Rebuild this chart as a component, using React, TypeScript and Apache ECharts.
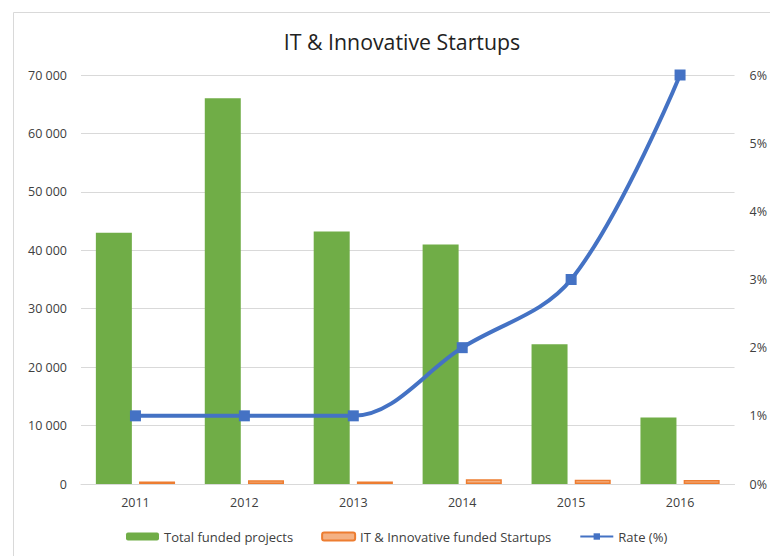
import React, { useEffect, useRef } from "react";
import * as echarts from "echarts";

const categories = ["2011", "2012", "2013", "2014", "2015", "2016"];
const totalFunded = [43000, 66000, 43200, 41000, 23900, 11400];
const itFunded = [430, 660, 440, 820, 720, 690];
const ratePct = [1, 1, 1, 2, 3, 6];

const FONT = "'Open Sans', 'Noto Sans', sans-serif";

export default function App() {
  const ref = useRef<HTMLDivElement>(null);
  useEffect(() => {
    const chart = echarts.init(ref.current!, null, { renderer: "svg" });
    chart.setOption({
      animation: false,
      backgroundColor: "#ffffff",
      textStyle: { fontFamily: FONT },
      title: {
        text: "IT & Innovative Startups",
        left: 397,
        textAlign: "center",
        top: 26,
        textStyle: { fontFamily: FONT, fontSize: 21.3, fontWeight: "normal", color: "#222222" },
      },
      graphic: [
        {
          type: "rect",
          shape: { x: 13.5, y: 12.5, width: 800, height: 600 },
          style: { fill: "none", stroke: "#d9d9d9", lineWidth: 1 },
          silent: true,
        },
      ],
      legend: {
        bottom: 8,
        left: 121,
        itemWidth: 33,
        itemHeight: 8,
        itemGap: 28,
        textStyle: { fontFamily: FONT, fontSize: 13, color: "#404040" },
        data: ["Total funded projects", "IT & Innovative funded Startups", "Rate (%)"],
      },
      grid: { left: 81, right: 33, top: 75, bottom: 72 },
      xAxis: {
        type: "category",
        data: categories,
        axisLine: { lineStyle: { color: "#d9d9d9", width: 1 } },
        axisTick: { show: false },
        axisLabel: { color: "#404040", fontSize: 12.5, fontFamily: FONT, margin: 12 },
      },
      yAxis: [
        {
          type: "value",
          min: 0,
          max: 70000,
          interval: 10000,
          axisLine: { show: false },
          axisTick: { show: false },
          splitLine: { lineStyle: { color: "#d9d9d9", width: 1 } },
          axisLabel: {
            color: "#404040",
            fontSize: 12.5,
            fontFamily: FONT,
            margin: 14,
            formatter: (v: number) => (v === 0 ? "0" : String(v).replace(/\B(?=(\d{3})+(?!\d))/g, " ")),
          },
        },
        {
          type: "value",
          min: 0,
          max: 6,
          interval: 1,
          position: "right",
          axisLine: { show: false },
          axisTick: { show: false },
          splitLine: { show: false },
          axisLabel: {
            color: "#404040",
            fontSize: 12.5,
            fontFamily: FONT,
            margin: 15,
            formatter: (v: number) => v + "%",
          },
        },
      ],
      series: [
        {
          name: "Total funded projects",
          type: "bar",
          data: totalFunded,
          barWidth: 36,
          barGap: "20%",
          itemStyle: { color: "#70AD47" },
        },
        {
          name: "IT & Innovative funded Startups",
          type: "bar",
          data: itFunded,
          barWidth: 36,
          itemStyle: { color: "#F4B183", borderColor: "#ED7D31", borderWidth: 1.5 },
        },
        {
          name: "Rate (%)",
          type: "line",
          yAxisIndex: 1,
          data: ratePct,
          smooth: 0.35,
          symbol: "rect",
          symbolSize: 11,
          lineStyle: { color: "#4472C4", width: 4 },
          itemStyle: { color: "#4472C4" },
        },
      ],
    });
    return () => chart.dispose();
  }, []);
  return (
    <div
      ref={ref}
      style={{ position: "absolute", left: 0, top: 0, width: 770, height: 556 }}
    />
  );
}
